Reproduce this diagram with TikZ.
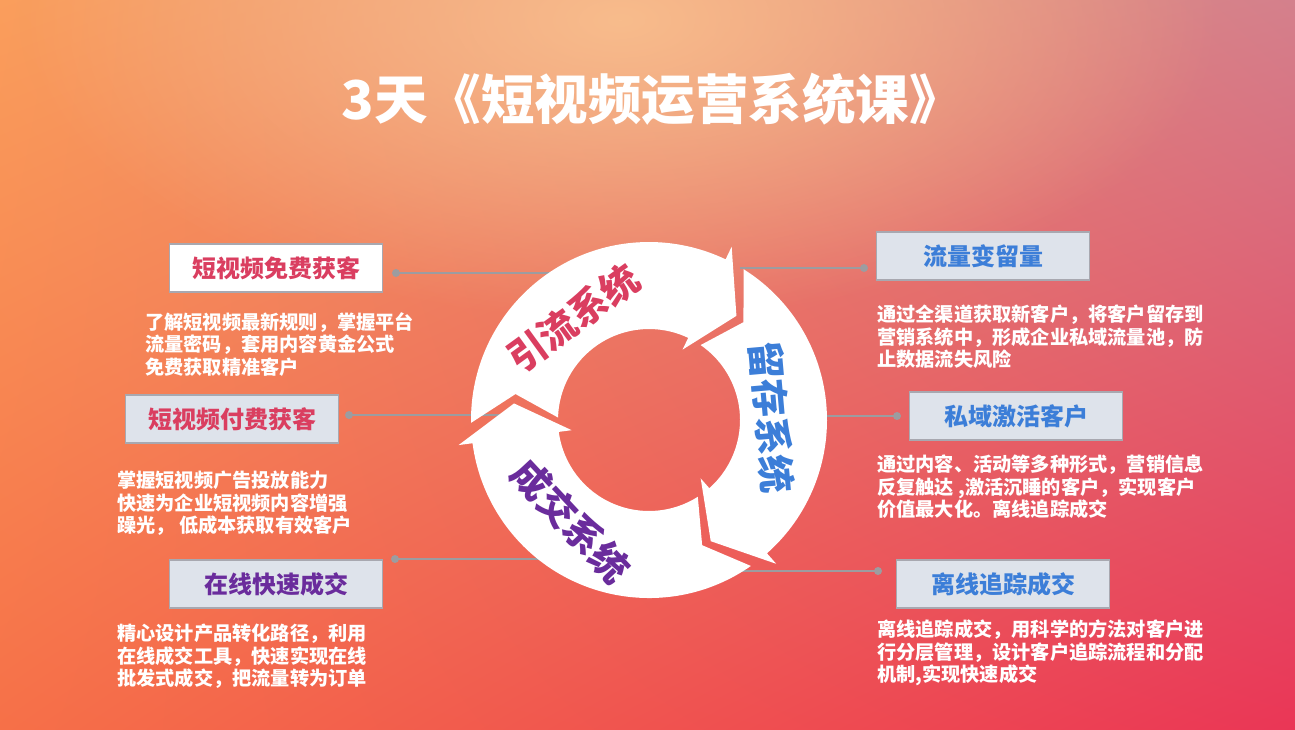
\documentclass[tikz,border=0pt]{standalone}
\usepackage{fontspec}
\setmainfont{Noto Sans CJK SC}
\usetikzlibrary{fadings,shadings}

\definecolor{bgul}{RGB}{250,158,92}
\definecolor{bgur}{RGB}{212,128,140}
\definecolor{bgll}{RGB}{246,112,72}
\definecolor{bglr}{RGB}{234,54,86}
\definecolor{glow}{RGB}{248,188,140}
\definecolor{pinkred}{RGB}{218,62,96}
\definecolor{blueish}{RGB}{60,126,216}
\definecolor{purple}{RGB}{106,44,156}
\definecolor{boxfill}{RGB}{222,227,235}
\definecolor{boxline}{RGB}{168,168,176}
\definecolor{linegray}{RGB}{156,156,160}

\tikzfading[name=glowfade, inner color=transparent!0, outer color=transparent!100]

% one white arrow of the ring: #1 tip of the arrow before, #2 own tip
\newcommand{\cyclearrow}[2]{%
  \fill[white, shift={(649,-420)}]
    ({#1+7.92}:178) arc[start angle={#1+7.92}, end angle={#2+14.5}, radius=178]
    -- ({#2+14.5}:192) -- ({#2}:136) -- ({#2+14.5}:78) -- ({#2+14.5}:91)
    arc[start angle={#2+14.5}, end angle={#1+5.44}, radius=91]
    -- ({#1-4}:136) -- cycle;}

\begin{document}
\begin{tikzpicture}[x=1pt, y=1pt,
                    box/.style={draw=boxline, line width=1.5pt, fill=boxfill, minimum width=213pt,
                                minimum height=48pt, inner sep=0pt, font=\bfseries\fontsize{24}{28}\selectfont},
                    desc/.style={text=white, align=left, anchor=north west, inner sep=0pt,
                                 font=\bfseries\fontsize{19.2}{22.5}\selectfont},
                    ring/.style={inner sep=0pt, font=\bfseries\fontsize{38}{40}\selectfont},
                    link/.style={draw=linegray, line width=2pt}
                    ]
    \useasboundingbox (0,0) rectangle (1295,-729);
    \shade[upper left=bgul, upper right=bgur, lower left=bgll, lower right=bglr] (0,0) rectangle (1295,-729);
    \fill[glow, path fading=glowfade] (620,-20) ellipse [x radius=600, y radius=300];

    \node[text=white, font=\bfseries\fontsize{53.5}{60}\selectfont] (title) at (652,-99) {3天《短视频运营系统课》};

    % connectors, behind the ring
    \coordinate (freedot) at (396,-273);  \coordinate (freeend) at (560,-273);
    \coordinate (paiddot) at (349,-415);  \coordinate (paidend) at (500,-415);
    \coordinate (dealdot) at (395,-559);  \coordinate (dealend) at (560,-559);
    \coordinate (keepdot) at (864,-268);  \coordinate (keepend) at (740,-268);
    \coordinate (wakedot) at (897,-416);  \coordinate (wakeend) at (800,-416);
    \coordinate (trackdot) at (878,-571); \coordinate (trackend) at (742,-571);
    \foreach \i in {free,paid,deal,keep,wake,track}{
        \draw[link] (\i dot) -- (\i end);
        \fill[linegray] (\i dot) circle (4);
    }

    % the ring
    \cyclearrow{173}{50}
    \cyclearrow{50}{-63}
    \cyclearrow{-63}{-187}

    \node[ring, text=pinkred, rotate=36] (leadring) at (573,-318) {引流系统};
    \node[ring, text=blueish, rotate=-85] (keepring) at (772,-417) {留存系统};
    \node[ring, text=purple, rotate=-47] (dealring) at (571,-521) {成交系统};

    % left side
    \node[box, fill=white, text=pinkred] (freebox) at (276,-268) {短视频免费获客};
    \node[desc] (freetext) at (145,-312) {了解短视频最新规则，掌握平台\\流量密码，套用内容黄金公式\\免费获取精准客户};
    \node[box, text=pinkred] (paidbox) at (232,-419) {短视频付费获客};
    \node[desc] (paidtext) at (117,-471) {掌握短视频广告投放能力\\快速为企业短视频内容增强\\躁光， 低成本获取有效客户};
    \node[box, text=purple] (dealbox) at (276,-584) {在线快速成交};
    \node[desc] (dealtext) at (117,-624) {精心设计产品转化路径，利用\\在线成交工具，快速实现在线\\批发式成交，把流量转为订单};

    % right side
    \node[box, text=blueish] (keepbox) at (983,-256) {流量变留量};
    \node[desc] (keeptext) at (877,-305) {通过全渠道获取新客户，将客户留存到\\营销系统中，形成企业私域流量池，防\\止数据流失风险};
    \node[box, text=blueish] (wakebox) at (1016,-416) {私域激活客户};
    \node[desc] (waketext) at (877,-455) {通过内容、活动等多种形式，营销信息\\反复触达 ,激活沉睡的客户，实现客户\\价值最大化。离线追踪成交};
    \node[box, text=blueish] (trackbox) at (1003,-584) {离线追踪成交};
    \node[desc] (tracktext) at (877,-620) {离线追踪成交，用科学的方法对客户进\\行分层管理，设计客户追踪流程和分配\\机制,实现快速成交};
\end{tikzpicture}
\end{document}
